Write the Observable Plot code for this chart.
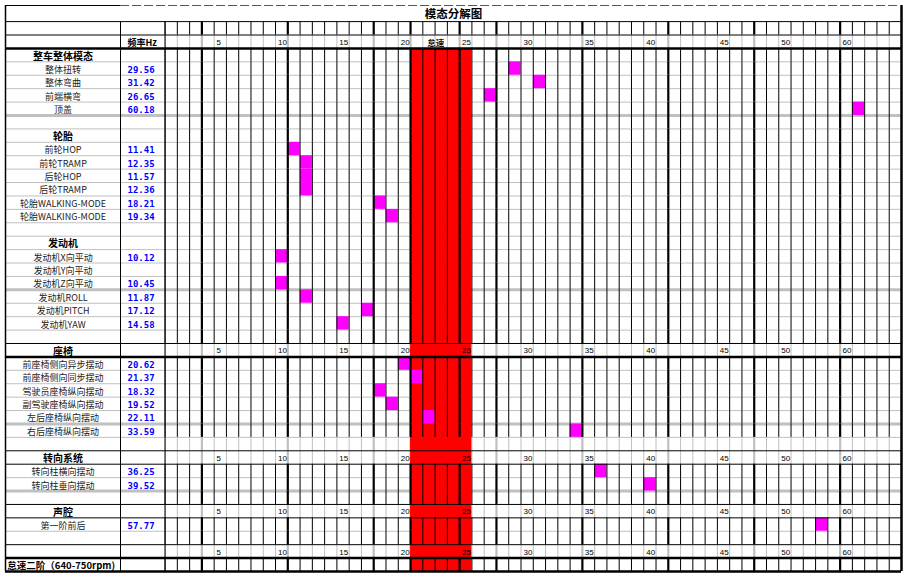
<!DOCTYPE html>
<html><head><meta charset="utf-8">
<script src="https://cdn.jsdelivr.net/npm/d3@7"></script>
<script src="https://cdn.jsdelivr.net/npm/@observablehq/plot@0.6"></script>
<style>
html,body{margin:0;padding:0;background:#fff;overflow:hidden;}
</style></head><body><div id="chart"></div>
<script>
// ---- data ----
const title = "模态分解图";
const freqHeader = "频率Hz";
const groupNames = ["整车整体模态", "轮胎", "发动机", "座椅", "转向系统", "声腔"];
const groupHasAxisRow = [false, false, false, true, true, true];
const modeNames = ["整体扭转", "整体弯曲", "前端横弯", "顶盖",
  "前轮HOP", "前轮TRAMP", "后轮HOP", "后轮TRAMP", "轮胎WALKING-MODE", "轮胎WALKING-MODE",
  "发动机X向平动", "发动机Y向平动", "发动机Z向平动", "发动机ROLL", "发动机PITCH", "发动机YAW",
  "前座椅侧向异步摆动", "前座椅侧向同步摆动", "驾驶员座椅纵向摆动", "副驾驶座椅纵向摆动", "左后座椅纵向摆动", "右后座椅纵向摆动",
  "转向柱横向摆动", "转向柱垂向摆动",
  "第一阶前后"];
const modeGroup = [0,0,0,0, 1,1,1,1,1,1, 2,2,2,2,2,2, 3,3,3,3,3,3, 4,4, 5];
const modeFreq = [29.56, 31.42, 26.65, 60.18,
  11.41, 12.35, 11.57, 12.36, 18.21, 19.34,
  10.12, null, 10.45, 11.87, 17.12, 14.58,
  20.62, 21.37, 18.32, 19.52, 22.11, 33.59,
  36.25, 39.52,
  57.77];
// highlighted grid cell (1-based column) as drawn in the reference
const modeCell = [29, 31, 27, 57,
  11, 12, 12, 12, 18, 19,
  10, null, 10, 12, 17, 15,
  20, 21, 18, 19, 22, 34,
  36, 40,
  54];
const tickLabels = ["5", "10", "15", "20", "25", "30", "35", "40", "45", "50", "60"];
const tickCells = [5, 10, 15, 20, 25, 30, 35, 40, 46, 51, 56];
const idleLabel = "怠速";
const idleRowLabel = "怠速二阶（640-750rpm)";
const idleCells = [21, 25];
const nCells = 60;

// ---- layout constants (column / row units) ----
const xLeft = -13, xLabelEdge = -3.63, xFreq = -3.06, xLabelMid = -8.31, xIdleText = -12.85;
const yTop = -3.2;
const heavyCols = [3, 10, 17, 20, 24, 27, 34, 41, 48, 55];
const grayHeavyRows = [5, 18, 28, 33];
const blackHeavyRows = [0, 23, 38, 39];
const GRAY = "#c0c0c0";

// ---- build rows ----
const rows = [];
groupNames.forEach((g, gi) => {
  rows.push({type: groupHasAxisRow[gi] ? "axis" : "section", label: g});
  modeNames.forEach((m, i) => {
    if (modeGroup[i] === gi) rows.push({type: "item", label: m, freq: modeFreq[i], cell: modeCell[i]});
  });
  rows.push({type: gi === 3 ? "blank" : "empty"});
});
rows.push({type: "axis", label: ""});
rows.push({type: "idle", label: idleRowLabel});
rows.forEach((d, i) => d.r = i);
const nRows = rows.length;

const blackRowSpans = [{r0: -2, r1: -1}];
const grayRowSpans = [{r0: -1, r1: 0}];
rows.forEach(d => {
  if (d.type === "axis" || d.type === "blank") grayRowSpans.push({r0: d.r, r1: d.r + 1});
  else blackRowSpans.push({r0: d.r, r1: d.r + 1});
});
const cols = d3.range(0, nCells);
function vsegs(spans, heavy) {
  const out = [];
  spans.forEach(s => cols.forEach(c => {
    if (heavyCols.includes(c) === heavy) out.push({x: c, y1: s.r0, y2: s.r1});
  }));
  return out;
}
const axisRows = rows.filter(d => d.type === "axis");
const blackThinH = [-2, -1];
axisRows.forEach(d => { [d.r, d.r + 1].forEach(b => { if (!blackHeavyRows.includes(b) && !blackThinH.includes(b)) blackThinH.push(b); }); });
const grayH = d3.range(1, nRows).filter(b => !blackThinH.includes(b) && !blackHeavyRows.includes(b) && !grayHeavyRows.includes(b));

const tickRows = [-1, ...axisRows.map(d => d.r)];
const tickData = [];
tickRows.forEach(r => tickLabels.forEach((t, i) => tickData.push({r, t, c: tickCells[i]})));

const items = rows.filter(d => d.type === "item");
const sections = rows.filter(d => d.type === "section" || d.type === "axis");
const marked = items.filter(d => d.cell != null);

const cjk = "'Noto Sans CJK SC', 'Noto Sans', sans-serif";

const plot = Plot.plot({
  width: 912, height: 581,
  margin: 0,
  x: {domain: [xLeft, nCells], range: [5, 901], axis: null},
  y: {domain: [yTop, nRows], range: [5, 571], axis: null},
  style: {background: "white"},
  marks: [
    // gray horizontal grid lines
    Plot.ruleY(grayH, {y: d => d, x1: xLeft, x2: nCells, stroke: GRAY, strokeWidth: 1}),
    Plot.ruleY(grayHeavyRows, {y: d => d, x1: xLeft, x2: nCells, stroke: GRAY, strokeWidth: 3}),
    // gray vertical lines (axis rows)
    Plot.ruleX(vsegs(grayRowSpans, false), {x: "x", y1: "y1", y2: "y2", stroke: GRAY, strokeWidth: 1}),
    Plot.ruleX(vsegs(grayRowSpans, true), {x: "x", y1: "y1", y2: "y2", stroke: GRAY, strokeWidth: 2.2}),
    // idle band
    Plot.rect([idleCells], {x1: d => d[0] - 1, x2: d => d[1], y1: 0, y2: nRows, fill: "#ff0000"}),
    // mode cells
    Plot.rect(marked, {x1: d => d.cell - 1, x2: d => d.cell, y1: d => d.r, y2: d => d.r + 1, fill: "#ff00ff"}),
    // black vertical lines
    Plot.ruleX(vsegs(blackRowSpans, false), {x: "x", y1: "y1", y2: "y2", stroke: "black", strokeWidth: 1}),
    Plot.ruleX(vsegs(blackRowSpans, true), {x: "x", y1: "y1", y2: "y2", stroke: "black", strokeWidth: 2.2}),
    Plot.ruleX([0, xLabelEdge], {x: d => d, y1: -2, y2: nRows, stroke: "black", strokeWidth: 1}),
    Plot.ruleX([xLeft], {x: d => d, y1: yTop, y2: nRows, stroke: "black", strokeWidth: 1.5}),
    Plot.ruleX([nCells], {x: d => d, y1: yTop, y2: nRows, stroke: "black", strokeWidth: 2.5}),
    // black horizontal lines
    Plot.ruleY(blackThinH, {y: d => d, x1: xLeft, x2: nCells, stroke: "black", strokeWidth: 1}),
    Plot.ruleY(blackHeavyRows, {y: d => d, x1: xLeft, x2: nCells, stroke: "black", strokeWidth: 2.5}),
    Plot.ruleY([yTop], {y: d => d, x1: xLeft, x2: xLabelEdge, stroke: "black", strokeWidth: 1}),
    Plot.ruleY([yTop], {y: d => d, x1: xLabelEdge, x2: nCells, stroke: "#555", strokeWidth: 1, strokeDasharray: "9,3"}),
    // texts
    Plot.text([title], {x: (xLeft + nCells) / 2, y: yTop + 0.62, text: d => d, fontFamily: cjk, fontSize: 11.5, fontWeight: "bold", fill: "black", ariaLabel: "title"}),
    Plot.text([freqHeader], {x: xFreq, y: -0.4, text: d => d, textAnchor: "start", fontFamily: cjk, fontSize: 9, fontWeight: "bold", fill: "black"}),
    Plot.text([idleLabel], {x: (idleCells[0] - 1 + idleCells[1]) / 2 - 0.45, y: -0.35, text: d => d, fontFamily: cjk, fontSize: 8.5, fontWeight: "bold", fill: "#111"}),
    Plot.text(tickData, {x: d => d.c - 1 + 0.2, y: d => d.r + 0.55, text: "t", textAnchor: "start", fontFamily: "'Liberation Sans', Arial, sans-serif", fontSize: 8, fill: "black"}),
    Plot.text(sections, {x: xLabelMid, y: d => d.r + 0.6, text: "label", fontFamily: cjk, fontSize: 10, fontWeight: "bold", fill: "black"}),
    Plot.text(items, {x: xLabelMid, y: d => d.r + 0.6, text: "label", fontFamily: cjk, fontSize: 9, fill: "#222"}),
    Plot.text(items.filter(d => d.freq != null), {x: xFreq, y: d => d.r + 0.6, text: d => d.freq.toFixed(2), textAnchor: "start", fontFamily: "'DejaVu Sans Mono', monospace", fontSize: 9, fontWeight: "bold", fill: "#0000ff"}),
    Plot.text(rows.filter(d => d.type === "idle"), {x: xIdleText, y: d => d.r + 0.6, text: "label", textAnchor: "start", fontFamily: cjk, fontSize: 9.5, fontWeight: "bold", fill: "black"})
  ]
});
d3.select(plot).selectAll('g[aria-label="title"] text').attr("letter-spacing", "2");
document.getElementById("chart").appendChild(plot);
</script></body></html>
